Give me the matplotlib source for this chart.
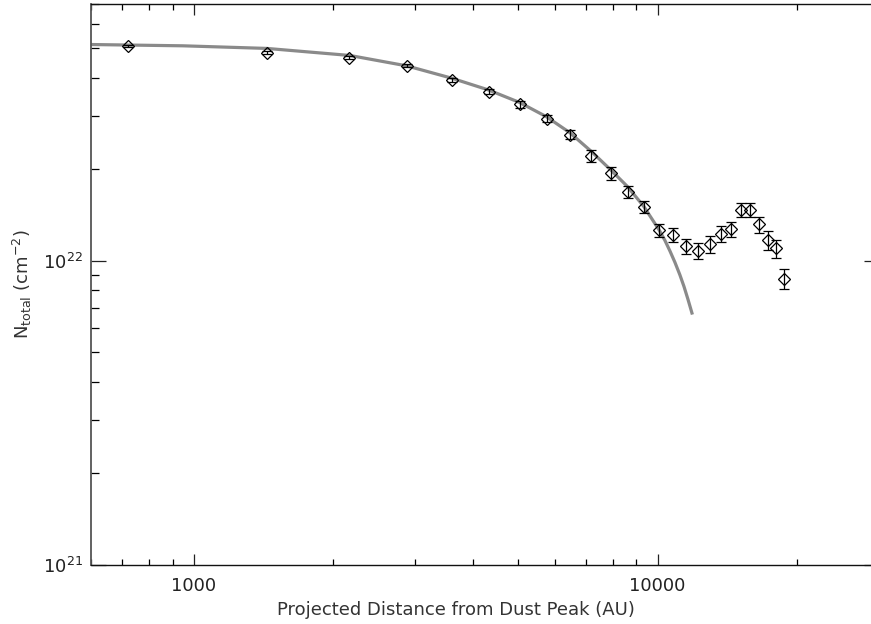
import numpy as np
import matplotlib
matplotlib.use("Agg")
import matplotlib.pyplot as plt
from matplotlib.ticker import LogLocator, FixedLocator, FixedFormatter, NullFormatter


# ── Column density profile (units of 1e22 cm^-2) ─────────────────────────────

dist_au = [720, 1440, 2160, 2880, 3600, 4320, 5040, 5760, 6480, 7200,
           7920, 8640, 9360, 10080, 10800, 11520, 12240, 12960, 13680, 14400,
           15120, 15840, 16560, 17280, 18000, 18720]
n_total = [5.11, 4.84, 4.66, 4.39, 3.95, 3.60, 3.27, 2.94, 2.60, 2.21,
           1.94, 1.69, 1.51, 1.26, 1.22, 1.12, 1.08, 1.135, 1.23, 1.27,
           1.47, 1.47, 1.32, 1.17, 1.10, 0.873]
n_err = [0.04, 0.05, 0.05, 0.06, 0.06, 0.07, 0.08, 0.08, 0.09, 0.10,
         0.09, 0.08, 0.07, 0.065, 0.065, 0.065, 0.065, 0.07, 0.075, 0.075,
         0.08, 0.08, 0.08, 0.08, 0.075, 0.065]

# model profile
fit_au = [600, 947, 1437, 2170, 2880, 3600, 4320, 5040, 5760, 6470,
          7200, 7930, 8600, 9340, 10090, 10370, 10630, 10900, 11170, 11400,
          11620, 11740, 11860]
fit_n = [5.15, 5.10, 5.00, 4.74, 4.38, 3.99, 3.65, 3.32, 2.98, 2.64,
         2.29, 1.99, 1.76, 1.51, 1.26, 1.168, 1.079, 0.989, 0.900, 0.824,
         0.750, 0.711, 0.674]

x = np.array(dist_au, dtype=float)
y = np.array(n_total) * 1e22
yerr = np.array(n_err) * 1e22

fig = plt.figure(figsize=(8.71, 6.24), dpi=100)
ax = fig.add_axes([0.1045, 0.0946, 0.9045, 0.899])

ax.plot(np.array(fit_au), np.array(fit_n) * 1e22,
        color="#8a8a8a", linewidth=2.3, zorder=2)
ax.errorbar(x, y, yerr=yerr, fmt="none", ecolor="black",
            elinewidth=0.9, capsize=3.4, capthick=0.9, zorder=3)
ax.plot(x, y, "D", markersize=6.4, markerfacecolor="none",
        markeredgecolor="black", markeredgewidth=0.9, zorder=4)

ax.set_xscale("log")
ax.set_yscale("log")
ax.set_xlim(600, 30000)
ax.set_ylim(1e21, 7e22)

# ticks: inward on all four sides
ax.xaxis.set_major_locator(FixedLocator([1000, 10000]))
ax.xaxis.set_major_formatter(FixedFormatter(["1000", "10000"]))
ax.xaxis.set_minor_locator(LogLocator(base=10, subs=np.arange(2, 10)))
ax.xaxis.set_minor_formatter(NullFormatter())
ax.yaxis.set_major_locator(LogLocator(base=10))
ax.yaxis.set_minor_locator(LogLocator(base=10, subs=np.arange(2, 10)))
ax.yaxis.set_minor_formatter(NullFormatter())

ax.tick_params(axis="x", which="major", direction="in", length=8, width=0.9,
               top=True, labelsize=13, pad=9, colors="#222222")
ax.tick_params(axis="x", which="minor", direction="in", length=4, width=0.9,
               top=True)
ax.tick_params(axis="y", which="major", direction="in", length=11, width=0.9,
               right=True, labelsize=13, pad=6, colors="#222222")
ax.tick_params(axis="y", which="minor", direction="in", length=5.8, width=0.9,
               right=True)

for side in ["top", "bottom", "right"]:
    ax.spines[side].set_color("#111111")
    ax.spines[side].set_linewidth(1.0)
ax.spines["left"].set_color("#555555")
ax.spines["left"].set_linewidth(1.3)

ax.set_xlabel("Projected Distance from Dust Peak (AU)", fontsize=13,
              color="#333333")
ax.xaxis.set_label_coords(0.463, -0.065)
ax.set_ylabel(r"N$_{\mathrm{total}}$ (cm$^{-2}$)", fontsize=13,
              color="#333333", labelpad=6)

fig.savefig("out.png", dpi=100)
